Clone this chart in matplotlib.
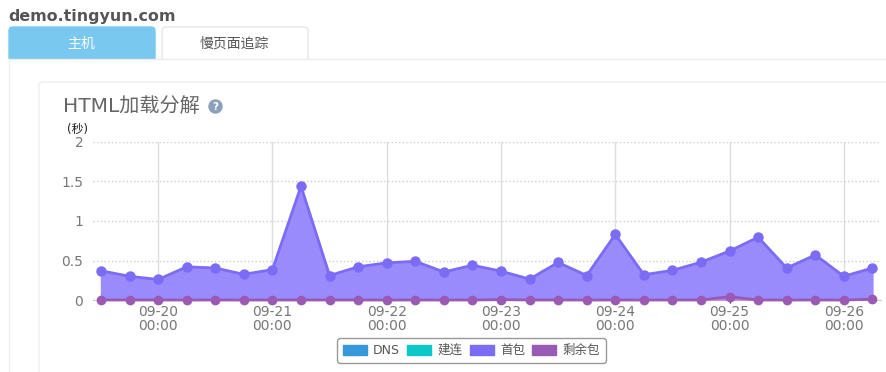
import pandas as pd
import matplotlib.pyplot as plt
from matplotlib.patches import FancyBboxPatch, Patch, Circle, Rectangle

plt.rcParams['font.family'] = ['DejaVu Sans', 'Noto Sans CJK SC']

# chart data, one point every 6 hours
times = pd.date_range('2015-09-19 12:00', '2015-09-26 06:00', freq='6h')
first_byte = [0.37, 0.30, 0.26, 0.42, 0.405, 0.325, 0.385, 1.44, 0.31, 0.42,
              0.47, 0.49, 0.355, 0.44, 0.365, 0.265, 0.475, 0.31, 0.83, 0.32,
              0.375, 0.478, 0.62, 0.795, 0.405, 0.57, 0.30, 0.405]
rest = [0, 0, 0, 0, 0, 0, 0, 0, 0, 0, 0, 0, 0, 0, 0.005, 0, 0, 0, 0, 0,
        0, 0, 0.042, 0, 0, 0, 0, 0.01]
y_ticks = [0, 0.5, 1, 1.5, 2]
y_labels = ['0', '0.5', '1', '1.5', '2']
x_ticks = pd.to_datetime(['2015-09-20', '2015-09-21', '2015-09-22', '2015-09-23',
                          '2015-09-24', '2015-09-25', '2015-09-26'])
x_labels = ['09-20\n00:00', '09-21\n00:00', '09-22\n00:00', '09-23\n00:00',
            '09-24\n00:00', '09-25\n00:00', '09-26\n00:00']
legend_names = ['DNS', '建连', '首包', '剩余包']
legend_colors = ['#3498db', '#0cc8c8', '#7b6cf6', '#9b59b6']

W, H = 887, 372
fig = plt.figure(figsize=(W / 100, H / 100), dpi=100)

# page furniture, in pixel coordinates
bg = fig.add_axes([0, 0, 1, 1])
bg.set_xlim(0, W)
bg.set_ylim(H, 0)
bg.axis('off')


def box(x, y, w, h, face, edge, rad=4):
    p = FancyBboxPatch((x, y), w, h, boxstyle='round,pad=0,rounding_size=%d' % rad,
                       facecolor=face, edgecolor=edge, linewidth=1)
    bg.add_patch(p)
    return p


bg.plot([9, 887], [59, 59], color='#ececec', lw=1)
bg.plot([9, 9], [59, 372], color='#f0f0f0', lw=1)
box(39, 82, 900, 320, 'white', '#eeeeee')
# tabs: the rounded bottoms are cut off at the panel line
tab_clip = Rectangle((0, 0), W, 59, transform=bg.transData)
box(9, 27, 146, 40, '#79c8ef', '#79c8ef').set_clip_path(tab_clip)
box(162, 27, 146, 40, 'white', '#e6e6e6').set_clip_path(tab_clip)
bg.text(8, 16, 'demo.tingyun.com', fontsize=11.4, fontweight='bold', color='#555555', va='center')
bg.text(81, 44, '主机', fontsize=10, color='white', ha='center', va='center')
bg.text(234.5, 44, '慢页面追踪', fontsize=10, color='#555555', ha='center', va='center')
bg.text(63, 106, 'HTML加载分解', fontsize=14.5, color='#666666', va='center')
bg.add_patch(Circle((215.5, 106.5), 6.5, color='#8aa0bd'))
bg.text(215.5, 106.5, '?', fontsize=7.5, fontweight='bold', color='white', ha='center', va='center')
bg.text(78, 129, '(秒)', fontsize=8.5, color='#222222', ha='center', va='center')

# plot area 93..881 x 142..300 px
ax = fig.add_axes([93 / W, 1 - 300 / H, 788 / W, 158 / H])
ax.patch.set_alpha(0)
ax.fill_between(times, first_byte, color='#9a8bfd', zorder=2)
ax.plot(times, first_byte, color='#7b6cf6', lw=2, marker='o', ms=6.5, zorder=3)
ax.fill_between(times, rest, color='#c07ad0', alpha=0.5, zorder=4)
ax.plot(times, rest, color='#9b59b6', lw=2, marker='o', ms=6, zorder=5, clip_on=False)

# x limits put the first point at 101 px and 6 hours at 28.6 px
step = times[1] - times[0]
ax.set_xlim(times[0] - step * 0.28, times[-1] + step * 0.3)
ax.set_ylim(0, 2)
ax.set_yticks(y_ticks)
ax.set_yticklabels(y_labels, fontsize=10, color='#777777')
ax.set_xticks(x_ticks)
ax.set_xticklabels(x_labels, fontsize=10, color='#777777', linespacing=1.0)
ax.tick_params(axis='y', length=0, pad=7)
ax.tick_params(axis='x', length=2, width=1, color='#333333', pad=1.5)
ax.grid(axis='y', color='#cccccc', lw=1, ls=':')
ax.grid(axis='x', color='#dddddd', lw=1)
ax.set_axisbelow(True)
for side in ['top', 'right', 'left']:
    ax.spines[side].set_visible(False)
ax.spines['bottom'].set_color('#cccccc')

handles = [Patch(facecolor=c, edgecolor=c, label=n) for n, c in zip(legend_names, legend_colors)]
leg = fig.legend(handles=handles, ncol=4, loc='center', bbox_to_anchor=(471.5 / W, 1 - 350.5 / H),
                 fontsize=9, frameon=True, fancybox=True, edgecolor='#999999', framealpha=1,
                 handlelength=1.9, handleheight=0.9, columnspacing=0.6, handletextpad=0.5,
                 borderpad=0.45)
for t in leg.get_texts():
    t.set_color('#555555')

fig.savefig('out.png', dpi=100)
